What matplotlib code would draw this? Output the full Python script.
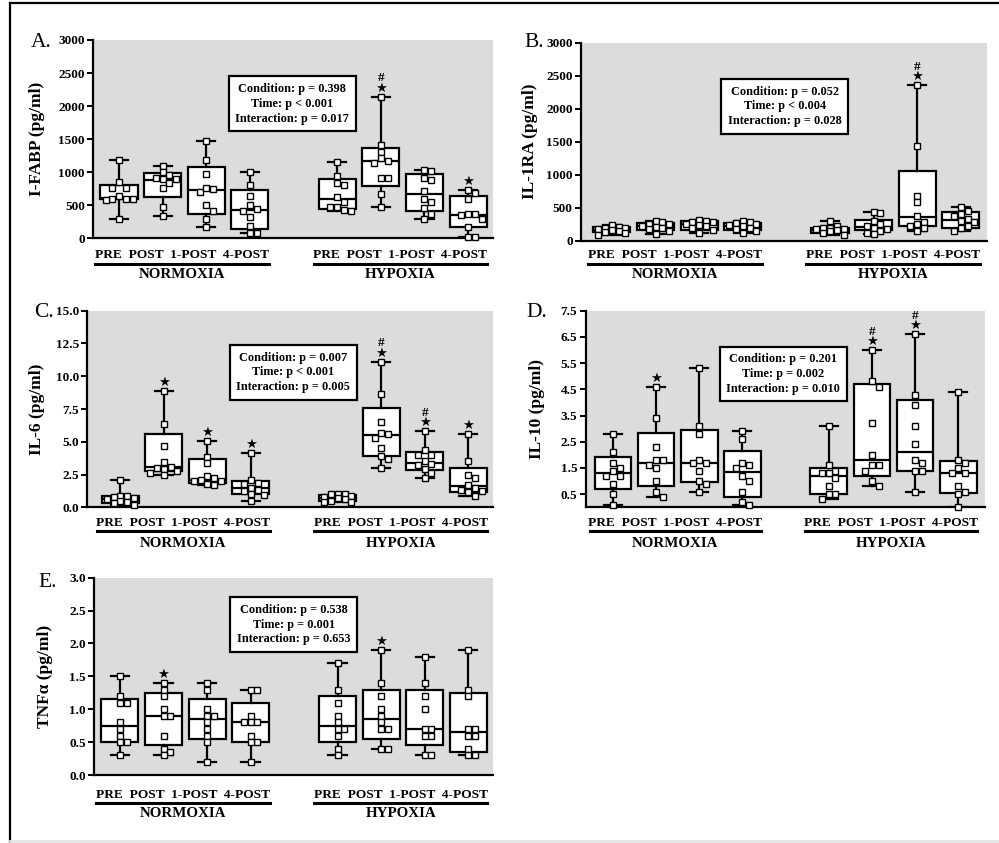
import matplotlib
matplotlib.use("Agg")
import matplotlib.pyplot as plt
import matplotlib.transforms as mtransforms
from matplotlib.lines import Line2D
import numpy as np

plt.rcParams['font.family'] = ['Liberation Serif', 'DejaVu Serif']
plt.rcParams['font.weight'] = 'bold'

W, H = 999, 843
fig = plt.figure(figsize=(W / 100, H / 100), dpi=100)
GRAY = '#dcdcdc'

timepoints = ["PRE", "POST", "1-POST", "4-POST"]
conditions = ["NORMOXIA", "HYPOXIA"]
positions = [1, 2, 3, 4, 6, 7, 8, 9]

# ---------------- A. I-FABP (pg/ml) ----------------
fabp_points = [
    [1180, 850, 770, 760, 640, 600, 590, 595, 585, 295],
    [1100, 1000, 960, 900, 895, 910, 840, 760, 470, 340],
    [1480, 1185, 970, 750, 700, 770, 500, 420, 300, 180],
    [1005, 815, 645, 510, 445, 420, 325, 185, 90, 80],
    [1160, 940, 810, 840, 620, 555, 470, 420, 430, 470],
    [2140, 1410, 1310, 1215, 1165, 1145, 910, 910, 665, 470],
    [1035, 1020, 880, 920, 720, 600, 555, 455, 370, 290],
    [735, 690, 595, 375, 355, 370, 290, 180, 25, 20],
]
fabp_q1 = [590, 620, 365, 150, 450, 790, 420, 170]
fabp_med = [615, 890, 730, 430, 595, 1165, 670, 360]
fabp_q3 = [815, 995, 1085, 735, 895, 1370, 975, 640]
fabp_marks = {5: "#*", 7: "*"}
fabp_stats = ["Condition: p = 0.398", "Time: p < 0.001", "Interaction: p = 0.017"]

# ---------------- B. IL-1RA (pg/ml) ----------------
il1ra_points = [
    [240, 215, 200, 190, 170, 160, 150, 130, 110, 80],
    [300, 280, 260, 250, 230, 210, 190, 170, 140, 100],
    [320, 300, 290, 280, 260, 240, 220, 190, 160, 110],
    [300, 280, 270, 250, 240, 220, 200, 180, 150, 120],
    [300, 220, 200, 190, 180, 170, 160, 140, 120, 90],
    [440, 420, 300, 260, 230, 200, 180, 150, 120, 100],
    [2360, 1430, 680, 580, 370, 290, 250, 230, 190, 150],
    [510, 450, 400, 370, 330, 300, 280, 230, 190, 140],
]
il1ra_q1 = [135, 155, 165, 165, 115, 165, 225, 190]
il1ra_med = [165, 225, 250, 225, 165, 215, 365, 310]
il1ra_q3 = [210, 275, 300, 275, 200, 320, 1060, 430]
il1ra_marks = {6: "#*"}
il1ra_stats = ["Condition: p = 0.052", "Time: p < 0.004", "Interaction: p = 0.028"]

# ---------------- C. IL-6 (pg/ml) ----------------
il6_points = [
    [2.08, 0.9, 0.85, 0.8, 0.7, 0.6, 0.5, 0.4, 0.3, 0.2],
    [8.85, 6.35, 4.65, 3.45, 3.0, 2.95, 3.05, 2.75, 2.6, 2.47],
    [5.05, 3.85, 3.35, 2.35, 2.2, 2.05, 2.0, 2.0, 1.75, 1.7],
    [4.15, 2.05, 1.85, 1.8, 1.5, 1.35, 1.25, 1.0, 0.95, 0.5],
    [1.05, 1.0, 1.0, 0.9, 0.8, 0.7, 0.6, 0.45, 0.4, 0.4],
    [11.1, 8.65, 6.5, 5.65, 5.6, 5.3, 4.55, 3.9, 3.65, 3.0],
    [5.8, 4.4, 4.0, 4.0, 3.5, 3.3, 3.2, 2.9, 2.6, 2.25],
    [5.6, 3.5, 2.5, 2.2, 1.7, 1.5, 1.3, 1.25, 1.2, 0.9],
]
il6_q1 = [0.32, 2.8, 1.83, 1.0, 0.45, 3.9, 2.85, 1.2]
il6_med = [0.6, 3.1, 2.08, 1.5, 0.7, 5.55, 3.4, 1.65]
il6_q3 = [0.9, 5.57, 3.66, 2.0, 0.95, 7.6, 4.2, 3.0]
il6_marks = {1: "*", 2: "*", 3: "*", 5: "#*", 6: "#*", 7: "*"}
il6_stats = ["Condition: p = 0.007", "Time: p < 0.001", "Interaction: p = 0.005"]

# ---------------- D. IL-10 (pg/ml) ----------------
il10_points = [
    [2.8, 2.1, 1.7, 1.5, 1.4, 1.2, 1.2, 0.9, 0.5, 0.1],
    [4.6, 3.4, 2.3, 1.8, 1.8, 1.6, 1.5, 1.0, 0.6, 0.4],
    [5.3, 3.1, 2.8, 1.8, 1.7, 1.7, 1.4, 1.0, 0.9, 0.6],
    [2.9, 2.6, 1.7, 1.6, 1.5, 1.2, 1.0, 0.6, 0.2, 0.1],
    [3.1, 1.6, 1.4, 1.3, 1.3, 1.1, 0.8, 0.5, 0.5, 0.3],
    [6.0, 4.8, 4.6, 3.2, 2.0, 1.6, 1.6, 1.4, 1.0, 0.8],
    [6.6, 4.3, 3.9, 3.1, 2.4, 1.8, 1.7, 1.4, 1.4, 0.6],
    [4.4, 1.8, 1.7, 1.5, 1.3, 1.3, 0.8, 0.6, 0.5, 0.0],
]
il10_q1 = [0.7, 0.8, 0.95, 0.4, 0.5, 1.2, 1.4, 0.55]
il10_med = [1.3, 1.7, 1.7, 1.35, 1.2, 1.8, 2.1, 1.3]
il10_q3 = [1.9, 2.85, 2.95, 2.15, 1.5, 4.7, 4.1, 1.75]
il10_marks = {1: "*", 5: "#*", 6: "#*"}
il10_stats = ["Condition: p = 0.201", "Time: p = 0.002", "Interaction: p = 0.010"]

# ---------------- E. TNFα (pg/ml) ----------------
tnf_points = [
    [1.5, 1.2, 1.1, 1.1, 0.8, 0.7, 0.6, 0.5, 0.5, 0.3],
    [1.4, 1.3, 1.2, 1.0, 0.9, 0.9, 0.6, 0.4, 0.35, 0.3],
    [1.4, 1.3, 1.0, 0.9, 0.9, 0.8, 0.7, 0.6, 0.5, 0.2],
    [1.3, 1.3, 0.9, 0.8, 0.8, 0.8, 0.6, 0.5, 0.5, 0.2],
    [1.7, 1.3, 1.1, 0.9, 0.8, 0.7, 0.7, 0.6, 0.4, 0.3],
    [1.9, 1.4, 1.2, 1.0, 0.9, 0.8, 0.7, 0.7, 0.4, 0.4],
    [1.8, 1.4, 1.2, 1.0, 0.7, 0.7, 0.6, 0.6, 0.3, 0.3],
    [1.9, 1.3, 1.2, 0.7, 0.7, 0.6, 0.6, 0.4, 0.3, 0.3],
]
tnf_q1 = [0.5, 0.45, 0.55, 0.5, 0.5, 0.55, 0.45, 0.35]
tnf_med = [0.75, 0.9, 0.85, 0.8, 0.75, 0.85, 0.7, 0.65]
tnf_q3 = [1.15, 1.25, 1.15, 1.1, 1.2, 1.3, 1.3, 1.25]
tnf_marks = {1: "*", 5: "*"}
tnf_stats = ["Condition: p = 0.538", "Time: p = 0.001", "Interaction: p = 0.653"]


def swarm_offsets(vals, px_per_unit, step, thr_px=6.0):
    """Spread points sideways (at most two slots each way) when they overlap."""
    order = np.argsort(vals)[::-1]
    placed = []
    offs = np.zeros(len(vals))
    slots = [0, 1, -1, 2, -2]
    for i in order:
        y = vals[i] * px_per_unit
        best, best_gap = 0, -1.0
        for k in slots:
            gaps = [abs(y - py) for pk, py in placed if pk == k]
            gap = min(gaps) if gaps else np.inf
            if gap >= thr_px:
                best = k
                break
            if gap > best_gap:
                best, best_gap = k, gap
        offs[i] = best * step
        placed.append((best, y))
    return offs


def draw_panel(rect, xlim, ylim, yticks, fmt, ylabel, letter, letter_xy,
               points, q1, med, q3, marks, stats_lines, stats_xy,
               ylabel_dx, group_dy):
    l, t, r, b = rect
    ax = fig.add_axes([l / W, 1 - b / H, (r - l) / W, (b - t) / H])
    ax.set_facecolor(GRAY)
    ax.set_xlim(*xlim)
    ax.set_ylim(*ylim)

    box_stats = []
    for pts, a, m, c in zip(points, q1, med, q3):
        box_stats.append(dict(whislo=min(pts), q1=a, med=m, q3=c,
                              whishi=max(pts), fliers=[]))
    lw = 1.6
    ax.bxp(box_stats, positions=positions, widths=0.85, showfliers=False,
           patch_artist=True, capwidths=0.42,
           boxprops=dict(facecolor='white', edgecolor='black', linewidth=lw),
           medianprops=dict(color='black', linewidth=lw),
           whiskerprops=dict(color='black', linewidth=lw),
           capprops=dict(color='black', linewidth=lw))

    px_per_unit = (b - t) / (ylim[1] - ylim[0])
    for pos, pts in zip(positions, points):
        pts = np.asarray(pts, dtype=float)
        offs = swarm_offsets(pts, px_per_unit, 0.155)
        ax.plot(pos + offs, pts, 's', ms=4.2, mfc='white', mec='black',
                mew=1.0, zorder=4, clip_on=False)

    # significance symbols stacked above the upper whisker
    for idx, sym in marks.items():
        top = max(points[idx])
        label = "#\n★" if '#' in sym else "★"
        ax.annotate(label, xy=(positions[idx], top), xytext=(0, 1.6),
                    textcoords='offset points', ha='center', va='bottom',
                    multialignment='center', linespacing=0.8,
                    fontsize=9.5, family=['Liberation Serif', 'DejaVu Sans'],
                    zorder=5)

    ax.set_yticks(yticks)
    ax.set_yticklabels([fmt.format(v) for v in yticks])
    ax.tick_params(axis='y', direction='out', length=4, width=1.4,
                   labelsize=9.5, pad=2, colors='black')
    ax.tick_params(axis='x', bottom=False, labelbottom=False)
    for s in ['top', 'right']:
        ax.spines[s].set_visible(False)
    for s in ['left', 'bottom']:
        ax.spines[s].set_linewidth(1.6)
        ax.spines[s].set_color('black')

    ax.set_ylabel(ylabel, fontsize=12.5, fontweight='bold')
    ax.yaxis.set_label_coords(-ylabel_dx / (r - l), 0.5)

    base = mtransforms.blended_transform_factory(ax.transData, ax.transAxes)
    d_text, d_line, d_cond = group_dy
    for center, cond in zip([2.45, 7.45], conditions):
        ax.text(center, 0, "  ".join(timepoints), ha='center', va='center',
                fontsize=9.6,
                transform=mtransforms.offset_copy(base, fig=fig, y=-d_text,
                                                  units='dots'))
        ln = Line2D([center - 1.99, center + 1.99], [0, 0], color='black',
                    lw=2.2, clip_on=False,
                    transform=mtransforms.offset_copy(base, fig=fig,
                                                      y=-d_line, units='dots'))
        ax.add_artist(ln)
        ax.text(center, 0, cond, ha='center', va='center', fontsize=10.8,
                transform=mtransforms.offset_copy(base, fig=fig, y=-d_cond,
                                                  units='dots'))

    ax.text(stats_xy[0], stats_xy[1], "\n".join(stats_lines),
            transform=ax.transAxes, ha='center', va='center',
            multialignment='center', fontsize=8.8, linespacing=1.3, zorder=6,
            bbox=dict(boxstyle='square,pad=0.55', fc='white', ec='black',
                      lw=1.6))

    fig.text(letter_xy[0] / W, 1 - letter_xy[1] / H, letter, fontsize=15.5,
             fontweight='normal', ha='left', va='baseline')
    return ax


draw_panel((93.3, 40, 493, 238.5), (0.41, 9.57), (0, 3000),
           [0, 500, 1000, 1500, 2000, 2500, 3000], "{:.0f}",
           "I-FABP (pg/ml)", "A.", (31, 47),
           fabp_points, fabp_q1, fabp_med, fabp_q3, fabp_marks, fabp_stats,
           (0.498, 0.678), 48, (16.5, 25.5, 36.5))

draw_panel((581, 42.7, 987, 240.7), (0.29, 9.6), (0, 3000),
           [0, 500, 1000, 1500, 2000, 2500, 3000], "{:.0f}",
           "IL-1RA (pg/ml)", "B.", (524, 47),
           il1ra_points, il1ra_q1, il1ra_med, il1ra_q3, il1ra_marks, il1ra_stats,
           (0.502, 0.678), 43, (14.5, 23, 33.5))

draw_panel((87.3, 310.7, 493, 507.3), (0.24, 9.57), (0, 15),
           [0, 2.5, 5.0, 7.5, 10.0, 12.5, 15.0], "{:.1f}",
           "IL-6 (pg/ml)", "C.", (34, 317),
           il6_points, il6_q1, il6_med, il6_q3, il6_marks, il6_stats,
           (0.508, 0.686), 42, (15.5, 23.5, 36))

draw_panel((585.7, 310.7, 985, 507.3), (0.37, 9.62), (0, 7.5),
           [0.5, 1.5, 2.5, 3.5, 4.5, 5.5, 6.5, 7.5], "{:.1f}",
           "IL-10 (pg/ml)", "D.", (526, 317),
           il10_points, il10_q1, il10_med, il10_q3, il10_marks, il10_stats,
           (0.495, 0.678), 41, (15.5, 23.5, 36))

draw_panel((94.3, 577.7, 493, 775), (0.41, 9.57), (0, 3.0),
           [0.0, 0.5, 1.0, 1.5, 2.0, 2.5, 3.0], "{:.1f}",
           "TNFα (pg/ml)", "E.", (38, 587),
           tnf_points, tnf_q1, tnf_med, tnf_q3, tnf_marks, tnf_stats,
           (0.5, 0.762), 41, (20, 28.3, 38.5))

# Frame lines around the figure
fig.add_artist(Line2D([10 / W, 1], [1 - 3 / H, 1 - 3 / H], color='black',
                      lw=1.6, transform=fig.transFigure))
fig.add_artist(Line2D([10 / W, 10 / W], [1 - 3 / H, 0], color='black',
                      lw=1.6, transform=fig.transFigure))
fig.add_artist(Line2D([10 / W, 1], [2 / H, 2 / H], color='#e4e4e4',
                      lw=2, transform=fig.transFigure))

fig.savefig("out.png", dpi=100)
